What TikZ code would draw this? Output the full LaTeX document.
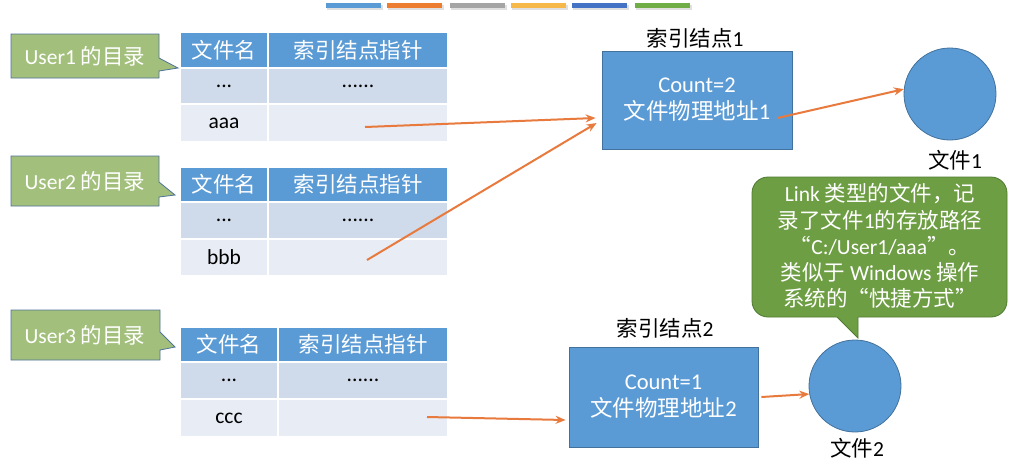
\documentclass[tikz,border=0pt]{standalone}
\usepackage{fontspec}
\setmainfont{Carlito}
\newfontfamily\cjk{Noto Sans CJK SC}
\newcommand\zh[1]{{\cjk #1}}
\usetikzlibrary{arrows.meta,calc}
\definecolor{nodeblue}{HTML}{5B9BD5}
\definecolor{nodeborder}{HTML}{41719C}
\definecolor{rowdark}{HTML}{CFDAEA}
\definecolor{rowlight}{HTML}{E7ECF5}
\definecolor{olivefill}{HTML}{A2C07C}
\definecolor{oliveborder}{HTML}{50739A}
\definecolor{bigfill}{HTML}{6E9E44}
\definecolor{bigborder}{HTML}{4F7A30}
\definecolor{arrorange}{HTML}{E87A3E}
\definecolor{barorange}{HTML}{ED7D31}
\definecolor{bargray}{HTML}{A5A5A5}
\definecolor{bargold}{HTML}{F7B84A}
\definecolor{bardblue}{HTML}{4472C4}
\definecolor{bargreen}{HTML}{70AD47}
\begin{document}
\begin{tikzpicture}[x=1pt,y=-1pt,
  every node/.style={font=\fontsize{21.5}{26}\selectfont},
  cell/.style={draw=white, line width=1.5pt, inner sep=0pt, outer sep=0pt, anchor=north west},
  hdr/.style={cell, fill=nodeblue, text=white},
  rowa/.style={cell, fill=rowdark, text=black},
  rowb/.style={cell, fill=rowlight, text=black},
  smallcall/.style={fill=olivefill, draw=oliveborder, line width=0.8pt},
  calltext/.style={text=white},
  idx/.style={fill=nodeblue, draw=nodeborder, line width=0.8pt, text=white, align=center, inner sep=0pt, font=\fontsize{22.5}{27}\selectfont},
  filec/.style={circle, fill=nodeblue, draw=nodeborder, line width=0.8pt, minimum size=92pt, inner sep=0pt},
  arr/.style={draw=arrorange, line width=2pt, -{Stealth[length=10pt,width=8pt]}},
  bar/.style={inner sep=0pt, outer sep=0pt, minimum width=56pt, minimum height=5pt}
]
\useasboundingbox (0,0) rectangle (1036,475);
\fill[white] (0,0) rectangle (1036,475);

% top colour bars
\foreach \x/\c in {326/nodeblue,387/barorange,450/bargray,511/bargold,572/bardblue,635/bargreen}{
  \fill[black!12] (\x+1,5) rectangle (\x+57,10);
  \fill[\c] (\x,3) rectangle (\x+55,8);
}

% ---------- table 1 ----------
\node[hdr, minimum width=88pt, minimum height=36pt] (t1a) at (180,32) {\zh{文件名}};
\node[hdr, minimum width=180pt, minimum height=36pt] (t1b) at (268,32) {\zh{索引结点指针}};
\node[rowa, minimum width=88pt, minimum height=36pt] (t1c) at (180,68) {...};
\node[rowa, minimum width=180pt, minimum height=36pt] (t1d) at (268,68) {......};
\node[rowb, minimum width=88pt, minimum height=38pt] (t1e) at (180,104) {aaa};
\node[rowb, minimum width=180pt, minimum height=38pt] (t1f) at (268,104) {};

% ---------- table 2 ----------
\node[hdr, minimum width=88pt, minimum height=35pt] (t2a) at (180,167) {\zh{文件名}};
\node[hdr, minimum width=180pt, minimum height=35pt] (t2b) at (268,167) {\zh{索引结点指针}};
\node[rowa, minimum width=88pt, minimum height=37pt] (t2c) at (180,202) {...};
\node[rowa, minimum width=180pt, minimum height=37pt] (t2d) at (268,202) {......};
\node[rowb, minimum width=88pt, minimum height=37pt] (t2e) at (180,239) {bbb};
\node[rowb, minimum width=180pt, minimum height=37pt] (t2f) at (268,239) {};

% ---------- table 3 ----------
\node[hdr, minimum width=98pt, minimum height=35pt] (t3a) at (180,327) {\zh{文件名}};
\node[hdr, minimum width=170pt, minimum height=35pt] (t3b) at (278,327) {\zh{索引结点指针}};
\node[rowa, minimum width=98pt, minimum height=37pt] (t3c) at (180,362) {...};
\node[rowa, minimum width=170pt, minimum height=37pt] (t3d) at (278,362) {......};
\node[rowb, minimum width=98pt, minimum height=38pt] (t3e) at (180,399) {ccc};
\node[rowb, minimum width=170pt, minimum height=38pt] (t3f) at (278,399) {};

% ---------- small callouts ----------
\path[smallcall] (11,34) -- (159,34) -- (159,58) -- (178,68) -- (159,71) -- (159,78) -- (11,78) -- cycle;
\node[calltext] (u1) at (85,56) {User1 \zh{的目录}};
\path[smallcall] (11,156) -- (159,156) -- (159,182) -- (175,195) -- (159,197) -- (159,206) -- (11,206) -- cycle;
\node[calltext] (u2) at (85,181) {User2 \zh{的目录}};
\path[smallcall] (11,310) -- (160,310) -- (160,332) -- (175,347) -- (160,350) -- (160,360) -- (11,360) -- cycle;
\node[calltext] (u3) at (85,335) {User3 \zh{的目录}};

% ---------- index nodes ----------
\node[idx, minimum width=190pt, minimum height=98pt] (n1) at (697,100) {Count=2\\\zh{文件物理地址}1};
\node (n1l) at (695,38) {\zh{索引结点}1};
\node[idx, minimum width=189pt, minimum height=100pt] (n2) at (663.5,397) {Count=1\\\zh{文件物理地址}2};
\node (n2l) at (665,328) {\zh{索引结点}2};

% ---------- files ----------
\node[filec] (f1) at (950,94) {};
\node (f1l) at (955,160) {\zh{文件}1};
\node[filec] (f2) at (855,386) {};
\node (f2l) at (857,448) {\zh{文件}2};

% ---------- big callout ----------
\node[fill=bigfill, draw=bigborder, line width=0.8pt, rounded corners=16pt, minimum width=255pt, minimum height=140pt, inner sep=0pt] (cb) at (879.5,247) {};
\fill[bigfill] (835,315) -- (858,315) -- (858,338) -- cycle;
\draw[bigborder, line width=0.8pt] (837,317) -- (858,338) -- (858,317);
\node[text=white, align=center, font=\fontsize{21.5}{26.2}\selectfont] (ct) at (880,246)
  {Link \zh{类型的文件，记}\\\zh{录了文件}1\zh{的存放路径}\\\zh{“}C:/User1/aaa\zh{”。}\\\zh{类似于} Windows \zh{操作}\\\zh{系统的“快捷方式”}};

% ---------- arrows ----------
\coordinate (s1) at (365,127);
\coordinate (s2) at (367,260);
\coordinate (s3) at (427,417);
\draw[arr] (s1) -- ([shift={(-6,18)}]n1.west);
\draw[arr] (s2) -- ([shift={(-5,23)}]n1.west);
\draw[arr] ([shift={(-15,18)}]n1.east) -- (f1.174);
\draw[arr] (s3) -- ([shift={(-3,23)}]n2.west);
\draw[arr] ([shift={(3,0)}]n2.east) -- (f2.190);
\end{tikzpicture}
\end{document}
